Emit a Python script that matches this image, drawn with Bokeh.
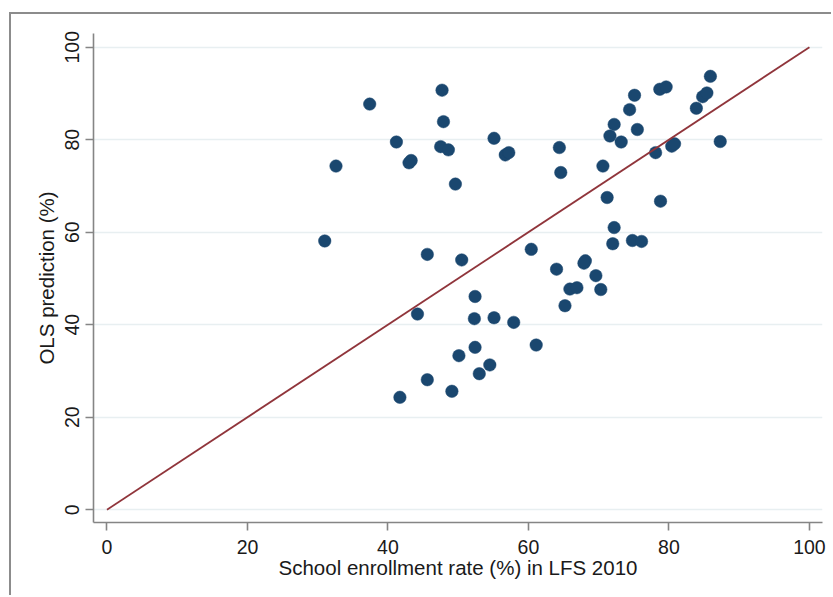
from bokeh.plotting import figure
from bokeh.models import Range1d, FixedTicker, ColumnDataSource
from bokeh.embed import file_html
from bokeh.resources import INLINE

# Enrollment rate measured in LFS 2010 (%) and the OLS prediction (%) per unit
enrollment = [31.0, 32.6, 37.4, 41.2, 43.0, 43.3, 47.7, 47.9, 47.5, 48.6,
              49.6, 55.1, 56.7, 57.2, 64.4, 64.6, 45.6, 50.5, 44.2, 52.4,
              52.3, 55.1, 57.9, 50.1, 52.4, 53.0, 54.5, 45.6, 41.7, 49.1,
              61.1, 60.4, 64.0, 65.2, 65.9, 66.9, 68.1, 67.9, 69.6, 70.3,
              70.6, 71.2, 71.6, 72.2, 72.2, 72.0, 73.2, 74.4, 75.1, 74.8,
              76.1, 75.5, 78.1, 78.7, 79.6, 78.8, 80.4, 80.8, 83.9, 84.8,
              85.4, 85.9, 87.3]
prediction = [58.1, 74.3, 87.7, 79.5, 75.0, 75.5, 90.7, 83.9, 78.5, 77.8,
              70.4, 80.3, 76.7, 77.2, 78.3, 72.9, 55.2, 54.0, 42.3, 46.1,
              41.3, 41.5, 40.5, 33.3, 35.1, 29.4, 31.3, 28.1, 24.3, 25.6,
              35.6, 56.3, 52.0, 44.1, 47.7, 48.0, 53.8, 53.3, 50.6, 47.6,
              74.3, 67.5, 80.8, 83.3, 61.0, 57.5, 79.5, 86.5, 89.6, 58.2,
              58.0, 82.2, 77.2, 90.9, 91.4, 66.7, 78.6, 79.1, 86.8, 89.3,
              90.1, 93.7, 79.6]

# 45-degree reference line
line_x = [0, 100]
line_y = [0, 100]

ticks = [0, 20, 40, 60, 80, 100]

FONT = "Liberation Sans"
AXIS_GREY = "#858585"

p = figure(width=822, height=583, output_backend="svg", toolbar_location=None,
           x_range=Range1d(-1.92, 101.86), y_range=Range1d(-2.77, 102.96),
           min_border_left=82, min_border_top=19, min_border_right=11,
           min_border_bottom=75)
p.margin = (12, 0, 0, 9)
p.styles = {"border-left": "2px solid #8c8c8c", "border-top": "2px solid #8c8c8c"}

p.background_fill_color = "white"
p.border_fill_color = "white"
p.outline_line_color = None

# grid: horizontal only, very light
p.xgrid.grid_line_color = None
p.ygrid.grid_line_color = "#e8eff1"
p.ygrid.grid_line_width = 1.5
p.ygrid.ticker = FixedTicker(ticks=ticks)

for ax in (p.xaxis[0], p.yaxis[0]):
    ax.ticker = FixedTicker(ticks=ticks)
    ax.axis_line_color = AXIS_GREY
    ax.axis_line_width = 1.6
    ax.major_tick_line_color = AXIS_GREY
    ax.major_tick_line_width = 1.6
    ax.major_tick_out = 8
    ax.major_tick_in = 0
    ax.minor_tick_line_color = None
    ax.major_label_text_font = FONT
    ax.major_label_text_font_size = "19.5px"
    ax.major_label_text_color = "#1a1a1a"
    ax.axis_label_text_font = FONT
    ax.axis_label_text_font_size = "20.5px"
    ax.axis_label_text_font_style = "normal"
    ax.axis_label_text_color = "#1a1a1a"

p.xaxis.axis_label = "School enrollment rate (%) in LFS 2010"
p.yaxis.axis_label = "OLS prediction (%)"
p.yaxis.major_label_orientation = "vertical"
p.xaxis.major_label_standoff = 9
p.yaxis.major_label_standoff = 6
p.xaxis.axis_label_standoff = -1
p.yaxis.axis_label_standoff = 5

src = ColumnDataSource(data=dict(x=enrollment, y=prediction))
p.scatter("x", "y", source=src, size=12.5, fill_color="#1a476f",
          line_color="#1a476f", line_width=0.5)
p.line(line_x, line_y, line_color="#90353b", line_width=1.8)

open("out.html", "w").write(file_html(p, INLINE))
